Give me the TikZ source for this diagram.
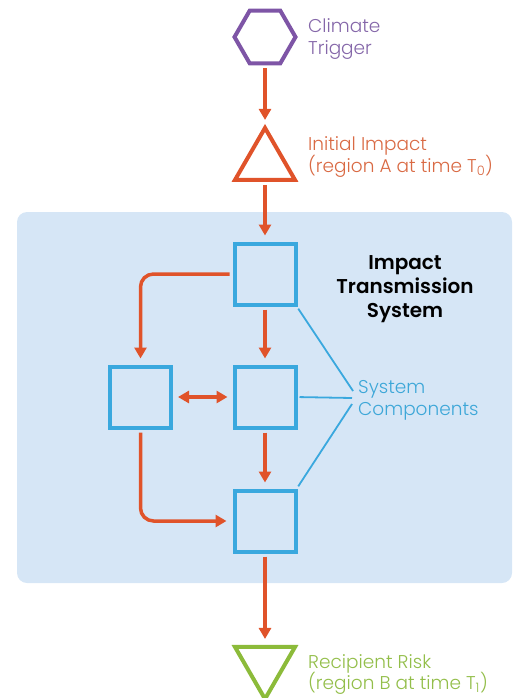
\documentclass[tikz,border=0pt]{standalone}
\usepackage{fontspec}
\setmainfont{Poppins}[UprightFont=* Light, BoldFont=* SemiBold]
\usetikzlibrary{shapes.geometric,arrows.meta,calc}
\definecolor{cpurple}{HTML}{7E55A6}
\definecolor{cpurpletxt}{HTML}{8567A9}
\definecolor{corange}{HTML}{E0532A}
\definecolor{corangetxt}{HTML}{D96A44}
\definecolor{cblue}{HTML}{3AA8DE}
\definecolor{cbluetxt}{HTML}{3DA7D8}
\definecolor{cbg}{HTML}{D6E6F6}
\definecolor{cgreen}{HTML}{8CBB3A}
\definecolor{cgreentxt}{HTML}{93BE4A}
\tikzset{
  shp/.style={draw, line width=4pt, inner sep=0pt, outer sep=0pt},
  box/.style={shp, draw=cblue, rectangle, minimum size=61pt},
  flow/.style={draw=corange, line width=3.5pt, -{Triangle[length=11pt,width=12pt]}, shorten <=5pt, shorten >=8pt},
  dflow/.style={draw=corange, line width=3.5pt, {Triangle[length=11pt,width=12pt]}-{Triangle[length=11pt,width=12pt]}, shorten <=7pt, shorten >=7pt},
  callout/.style={draw=cblue, line width=1.8pt},
  lbl/.style={anchor=base west, inner sep=0pt, font=\fontsize{18.5}{22}\selectfont},
  ttl/.style={anchor=base, inner sep=0pt, font=\fontsize{20}{24}\selectfont\bfseries, text=black},
}
\begin{document}
\begin{tikzpicture}[x=1pt,y=-1pt]
\useasboundingbox (0,0) rectangle (513,698);
% background panel
\fill[cbg, rounded corners=10pt] (17,212) rectangle (512,583);

% shapes
\node[shp, draw=cpurple, regular polygon, regular polygon sides=6, minimum size=61pt] (hex) at (265,37) {};
\node[shp, draw=corange, regular polygon, regular polygon sides=3, minimum size=69.3pt] (trig) at (265,162.6) {};
\node[box] (top) at (265,274) {};
\node[box] (mid) at (265,397) {};
\node[box] (left) at (140.5,397) {};
\node[box] (bot) at (265,521) {};
\node[shp, draw=cgreen, regular polygon, regular polygon sides=3, shape border rotate=180, minimum size=69.3pt] (risk) at (265,664.3) {};

% flows
\draw[flow] (hex.south) -- (trig.north);
\draw[flow] (trig.south) -- (top.north);
\draw[flow] (top.south) -- (mid.north);
\draw[flow] (mid.south) -- (bot.north);
\draw[flow] (bot.south) -- (risk.north);
\draw[flow, rounded corners=13pt] (top.west) -| (left.north);
\draw[flow, rounded corners=13pt] (left.south) |- (bot.west);
\draw[dflow] (left.east) -- (mid.west);

% callouts
\coordinate (ca) at (353,391);
\coordinate (cb) at (352,398);
\coordinate (cc) at (352,404);
\draw[callout, shorten <=5pt] (top.south east) -- (ca);
\draw[callout, shorten <=4pt] (mid.east) -- (cb);
\draw[callout, shorten <=5pt] (bot.north east) -- (cc);

% labels
\node[lbl, text=cpurpletxt] (l1a) at (308,33) {Climate};
\node[lbl, text=cpurpletxt] (l1b) at (308,55) {Trigger};
\node[lbl, text=corangetxt] (l2a) at (308,150) {Initial Impact};
\node[lbl, text=corangetxt] (l2b) at (308,172) {(region A at time T\textsubscript{0})};
\node[lbl, text=cbluetxt] (l3a) at (358,393) {System};
\node[lbl, text=cbluetxt] (l3b) at (358,415) {Components};
\node[lbl, text=cgreentxt] (l4a) at (308,668) {Recipient Risk};
\node[lbl, text=cgreentxt] (l4b) at (308,689) {(region B at time T\textsubscript{1})};
\node[ttl] (t1) at (405,269) {Impact};
\node[ttl] (t2) at (405,293) {Transmission};
\node[ttl] (t3) at (405,317) {System};
\end{tikzpicture}
\end{document}
